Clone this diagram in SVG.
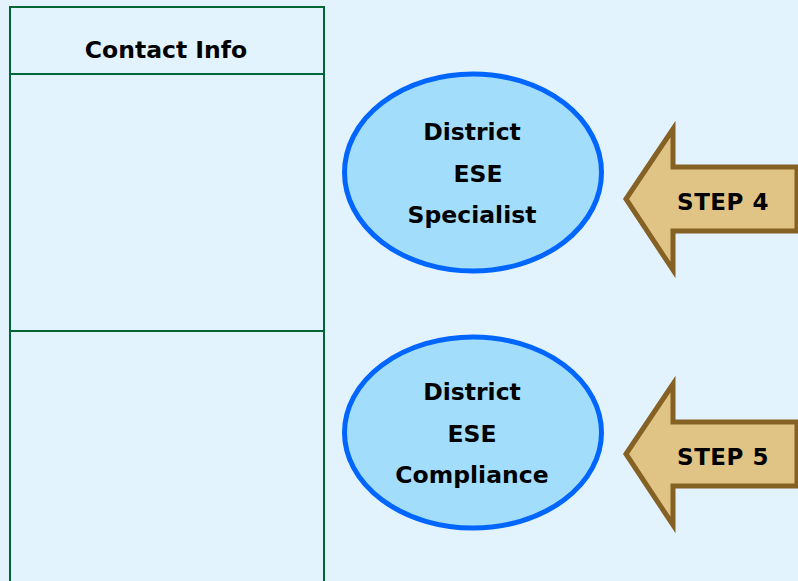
<svg xmlns="http://www.w3.org/2000/svg" width="798" height="581" viewBox="0 0 798 581">
<style>
  .grid { fill: none; stroke: #006633; stroke-width: 2; }
  .oval { fill: #a3ddfc; stroke: #0066ff; stroke-width: 5; }
  .arrow { fill: #e0c486; stroke: #856124; stroke-width: 5; stroke-linejoin: miter; }
  text { font-family: "Comic Sans MS", "DejaVu Sans", sans-serif; font-weight: bold; fill: #000; text-anchor: middle; }
  .t { font-size: 23.5px; }
  .s { font-size: 23px; letter-spacing: 0.5px; }
</style>
<rect x="0" y="0" width="798" height="581" fill="#e3f3fd"/>
<g id="contact-table">
  <polyline class="grid" points="10,581 10,7 325,7 324,7 324,581"/>
  <line class="grid" x1="10" y1="74" x2="324" y2="74"/>
  <line class="grid" x1="10" y1="331" x2="324" y2="331"/>
  <text class="t" x="166" y="58">Contact Info</text>
</g>
<g id="specialist">
  <ellipse class="oval" cx="473" cy="172.5" rx="128.5" ry="98.5"/>
  <text class="t" x="472" y="140">District</text>
  <text class="t" x="478" y="182">ESE</text>
  <text class="t" x="472" y="223">Specialist</text>
</g>
<g id="compliance">
  <ellipse class="oval" cx="473" cy="432.5" rx="128.5" ry="95.5"/>
  <text class="t" x="472" y="400">District</text>
  <text class="t" x="472" y="442">ESE</text>
  <text class="t" x="472" y="483">Compliance</text>
</g>
<g id="connectors">
  <g id="step4">
    <polygon class="arrow" points="626,199 673,129 673,167 797,167 797,231 673,231 673,270"/>
    <text class="s" x="723" y="210">STEP 4</text>
  </g>
  <g id="step5">
    <polygon class="arrow" points="626,454 673,384 673,422 797,422 797,486 673,486 673,525"/>
    <text class="s" x="723" y="465">STEP 5</text>
  </g>
</g>
</svg>
